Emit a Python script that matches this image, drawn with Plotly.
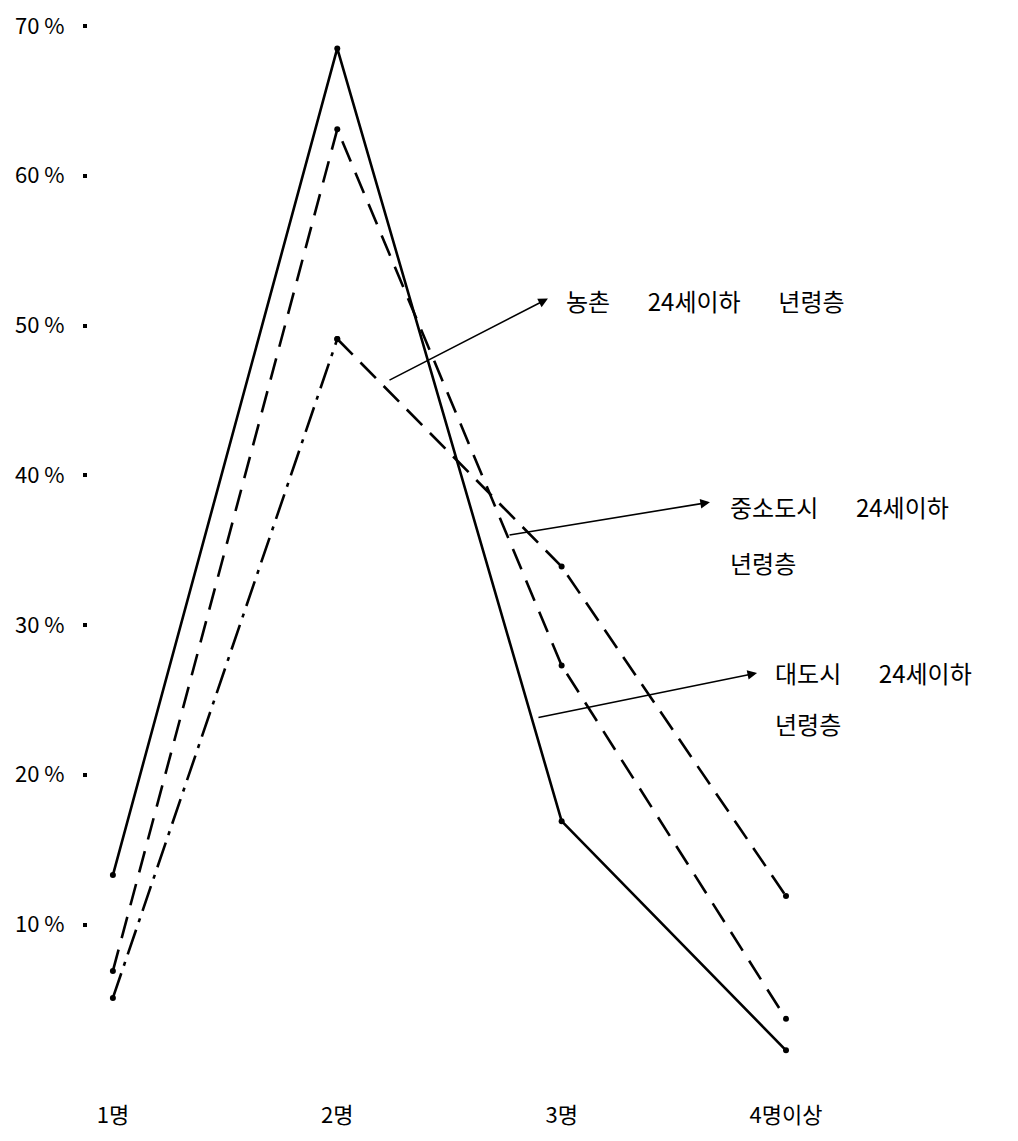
import plotly.graph_objects as go

# ─── 데이터 ───────────────────────────────────────────────────────────────
CATEGORIES = ["1명", "2명", "3명", "4명이상"]
Y_TICKS = [10, 20, 30, 40, 50, 60, 70]
Y_TICK_TEXT = [f"{v} %" for v in Y_TICKS]

DAEDOSI = [13.3, 68.5, 16.9, 1.6]     # 대도시 24세이하 년령층 (solid)
JUNGSO = [6.9, 63.1, 27.3, 3.7]       # 중소도시 24세이하 년령층 (long dash)
NONGCHON = [5.1, 49.1, 33.9, 11.9]    # 농촌 24세이하 년령층 (dash-dot -> dash)

FONT = "Noto Sans CJK KR"
X = list(range(len(CATEGORIES)))
SP = "\u00a0"

fig = go.Figure()

line_style = dict(color="black", width=2.6)
marker_style = dict(color="black", size=6)

fig.add_trace(go.Scatter(x=X, y=DAEDOSI, mode="lines+markers",
                         line=dict(**line_style), marker=marker_style))
fig.add_trace(go.Scatter(x=X, y=JUNGSO, mode="lines+markers",
                         line=dict(**line_style, dash="22px,12px"), marker=marker_style))
# 농촌: 1명→2명 구간은 일점쇄선, 이후는 파선
fig.add_trace(go.Scatter(x=X[:2], y=NONGCHON[:2], mode="lines+markers",
                         line=dict(**line_style, dash="26px,8px,4px,8px"), marker=marker_style))
fig.add_trace(go.Scatter(x=X[1:], y=NONGCHON[1:], mode="lines+markers",
                         line=dict(**line_style, dash="22px,11px"), marker=marker_style))

# ─── 주석 (화살표 + 글) ───────────────────────────────────────────────────
ARROWS = [
    # (tail x, tail y, head x, head y)
    (1.226, 46.3, 1.939, 51.8),
    (1.761, 36.0, 2.661, 38.2),
    (1.890, 23.8, 2.871, 26.8),
]
for tx, ty, hx, hy in ARROWS:
    fig.add_annotation(x=hx, y=hy, ax=tx, ay=ty, xref="x", yref="y",
                       axref="x", ayref="y", text="", showarrow=True,
                       arrowhead=2, arrowsize=1.2, arrowwidth=1.6,
                       arrowcolor="black", standoff=0, startstandoff=0)

LABELS = [
    (2.01, 51.7, "농촌" + SP * 7 + "24세이하" + SP * 7 + "년령층"),
    (2.74, 37.9, "중소도시" + SP * 7 + "24세이하"),
    (2.74, 34.2, "년령층"),
    (2.94, 26.8, "대도시" + SP * 7 + "24세이하"),
    (2.94, 23.4, "년령층"),
]
for lx, ly, txt in LABELS:
    fig.add_annotation(x=lx, y=ly, xref="x", yref="y", text=txt, showarrow=False,
                       xanchor="left", yanchor="middle",
                       font=dict(family=FONT, size=24, color="black"))

fig.update_layout(
    width=1010, height=1133,
    margin=dict(l=80, r=0, t=12, b=51),
    paper_bgcolor="white", plot_bgcolor="white",
    showlegend=False,
    font=dict(family=FONT, size=22, color="black"),
)
fig.update_xaxes(range=[-0.111, 4.034], tickvals=X, ticktext=CATEGORIES,
                 showgrid=False, zeroline=False, showline=False, ticks="",
                 ticklabelstandoff=10, tickfont=dict(size=22))
fig.update_yaxes(range=[-1.05, 70.2], tickvals=Y_TICKS, ticktext=Y_TICK_TEXT,
                 showgrid=False, zeroline=False, showline=False,
                 ticks="outside", ticklen=4, tickwidth=4, tickcolor="black",
                 ticklabelstandoff=14, ticklabeloverflow="allow",
                 tickfont=dict(size=22))

fig.write_html("out.html")
